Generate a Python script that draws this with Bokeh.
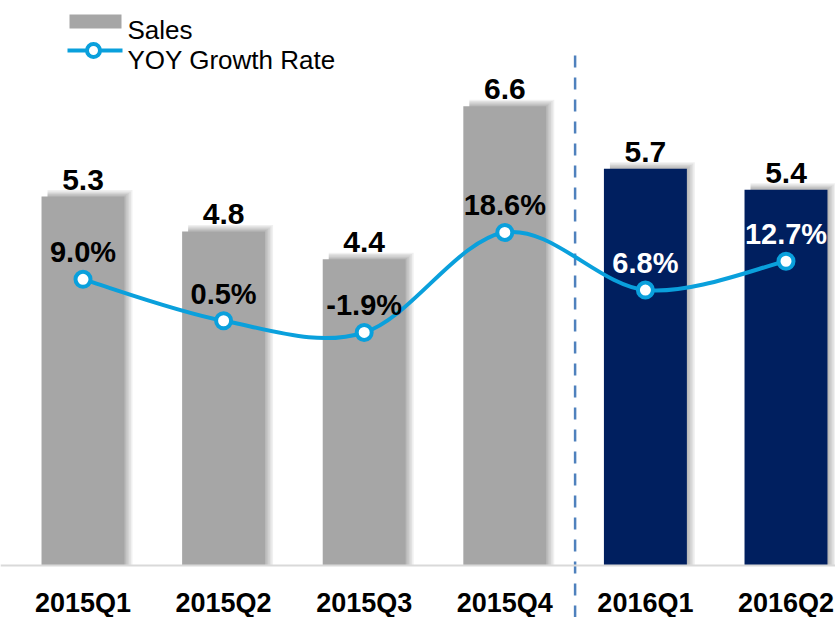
from bokeh.plotting import figure
from bokeh.models import Range1d, Span, ColumnDataSource
from bokeh.core.properties import value
from bokeh.embed import file_html
from bokeh.resources import INLINE

# ---- data ----
quarters = ["2015Q1", "2015Q2", "2015Q3", "2015Q4", "2016Q1", "2016Q2"]
sales = [5.3, 4.8, 4.4, 6.6, 5.7, 5.4]
yoy_growth = [9.0, 0.5, -1.9, 18.6, 6.8, 12.7]
sales_labels = ["5.3", "4.8", "4.4", "6.6", "5.7", "5.4"]
growth_labels = ["9.0%", "0.5%", "-1.9%", "18.6%", "6.8%", "12.7%"]

# ---- styling ----
W, H = 835, 617
FONT = "Liberation Sans"
GREY = "#A6A6A6"
NAVY = "#001F5F"
BLUE = "#0AA0DC"
PITCH = 140.6          # px per category
X0 = 82.5              # px centre of first category
SALES_PX = 69.6        # px per sales unit
SALES_ZERO = 565.0     # px from top of zero line
PCT_PX = 4.878
PCT_ZERO = 322.7
BAR_W = 0.59

xs = list(range(len(quarters)))
bar_colors = [GREY if q.startswith("2015") else NAVY for q in quarters]
pct_text_colors = ["black" if q.startswith("2015") else "white" for q in quarters]

p = figure(width=W, height=H, output_backend="svg", toolbar_location=None,
           x_range=Range1d(-X0 / PITCH, (W - X0) / PITCH),
           y_range=Range1d(-(H - SALES_ZERO) / SALES_PX, SALES_ZERO / SALES_PX),
           x_axis_location=None, y_axis_location=None, min_border=0)
p.extra_y_ranges = {"pct": Range1d(-(H - PCT_ZERO) / PCT_PX, PCT_ZERO / PCT_PX),
                    "pxy": Range1d(H, 0)}
p.extra_x_ranges = {"pxx": Range1d(0, W)}
p.outline_line_color = None
p.xgrid.visible = False
p.ygrid.visible = False
p.background_fill_color = "white"
p.border_fill_color = "white"

# ---- bar shadows ----
pxx = 1.0 / PITCH
pxy = 1.0 / SALES_PX
for k in range(1, 6):
    p.quad(left=[x - BAR_W / 2 + 6 * pxx for x in xs],
           right=[x + BAR_W / 2 + 1.6 * k * pxx for x in xs],
           top=[s + 1.3 * k * pxy for s in sales],
           bottom=[0] * len(xs),
           fill_color="black", fill_alpha=0.06, line_color=None)

# ---- bars ----
src = ColumnDataSource(dict(x=xs, top=sales, color=bar_colors,
                            lab=sales_labels, pct=yoy_growth,
                            plab=growth_labels, pcol=pct_text_colors,
                            cat=quarters))
p.vbar(x="x", top="top", width=BAR_W, bottom=0, fill_color="color",
       line_color=None, source=src)

# ---- divider between years ----
n2015 = sum(1 for q in quarters if q.startswith("2015"))
div_x = n2015 - 0.5
p.segment(x0=[div_x], x1=[div_x], y0=[55], y1=[H], y_range_name="pxy",
          line_color="#4F81BD", line_width=2.5, line_dash="12 10")

# ---- baseline ----
p.add_layout(Span(location=0, dimension="width", line_color="#D9D9D9",
                  line_width=2))

# ---- smooth growth line (Catmull-Rom -> bezier) ----
n = len(xs)
def pt(i):
    i = max(0, min(n - 1, i))
    return xs[i], yoy_growth[i]
bx0, by0, bx1, by1, c0x, c0y, c1x, c1y = [], [], [], [], [], [], [], []
for i in range(n - 1):
    pm, p0, p1, p2 = pt(i - 1), pt(i), pt(i + 1), pt(i + 2)
    bx0.append(p0[0]); by0.append(p0[1]); bx1.append(p1[0]); by1.append(p1[1])
    c0x.append(p0[0] + (p1[0] - pm[0]) / 6); c0y.append(p0[1] + (p1[1] - pm[1]) / 6)
    c1x.append(p1[0] - (p2[0] - p0[0]) / 6); c1y.append(p1[1] - (p2[1] - p0[1]) / 6)
p.bezier(x0=bx0, y0=by0, x1=bx1, y1=by1, cx0=c0x, cy0=c0y, cx1=c1x, cy1=c1y,
         line_color=BLUE, line_width=4, y_range_name="pct")
p.scatter(x="x", y="pct", source=src, size=15, marker="circle",
          fill_color="white", line_color=BLUE, line_width=4, y_range_name="pct")

# ---- labels ----
p.text(x="x", y="top", text="lab", source=src, text_align="center",
       text_baseline="alphabetic", y_offset=-17, text_font=value(FONT),
       text_font_size="30px", text_font_style="bold", text_color="black")
p.text(x="x", y="pct", text="plab", source=src, text_align="center",
       text_baseline="alphabetic", y_offset=-27, text_font=value(FONT),
       text_font_size="29px", text_font_style="bold", text_color="pcol",
       y_range_name="pct")
p.text(x="x", y=0, text="cat", source=src, text_align="center",
       text_baseline="alphabetic", y_offset=37, text_font=value(FONT),
       text_font_size="27px", text_font_style="bold", text_color="black")

# ---- legend (drawn in pixel space) ----
p.rect(x=[95], y=[21], width=[52], height=[14], fill_color=GREY,
       line_color=None, x_range_name="pxx", y_range_name="pxy")
p.segment(x0=[67], x1=[122], y0=[50], y1=[50], line_color=BLUE, line_width=4,
          x_range_name="pxx", y_range_name="pxy")
p.scatter(x=[93], y=[50], size=13, marker="circle", fill_color="white",
          line_color=BLUE, line_width=4, x_range_name="pxx", y_range_name="pxy")
p.text(x=[127, 127], y=[29, 59], text=["Sales", "YOY Growth Rate"],
       text_align="left", text_baseline="alphabetic", text_font=value(FONT),
       text_font_size="26px", text_color="black",
       x_range_name="pxx", y_range_name="pxy")

open("out.html", "w").write(file_html(p, INLINE))
